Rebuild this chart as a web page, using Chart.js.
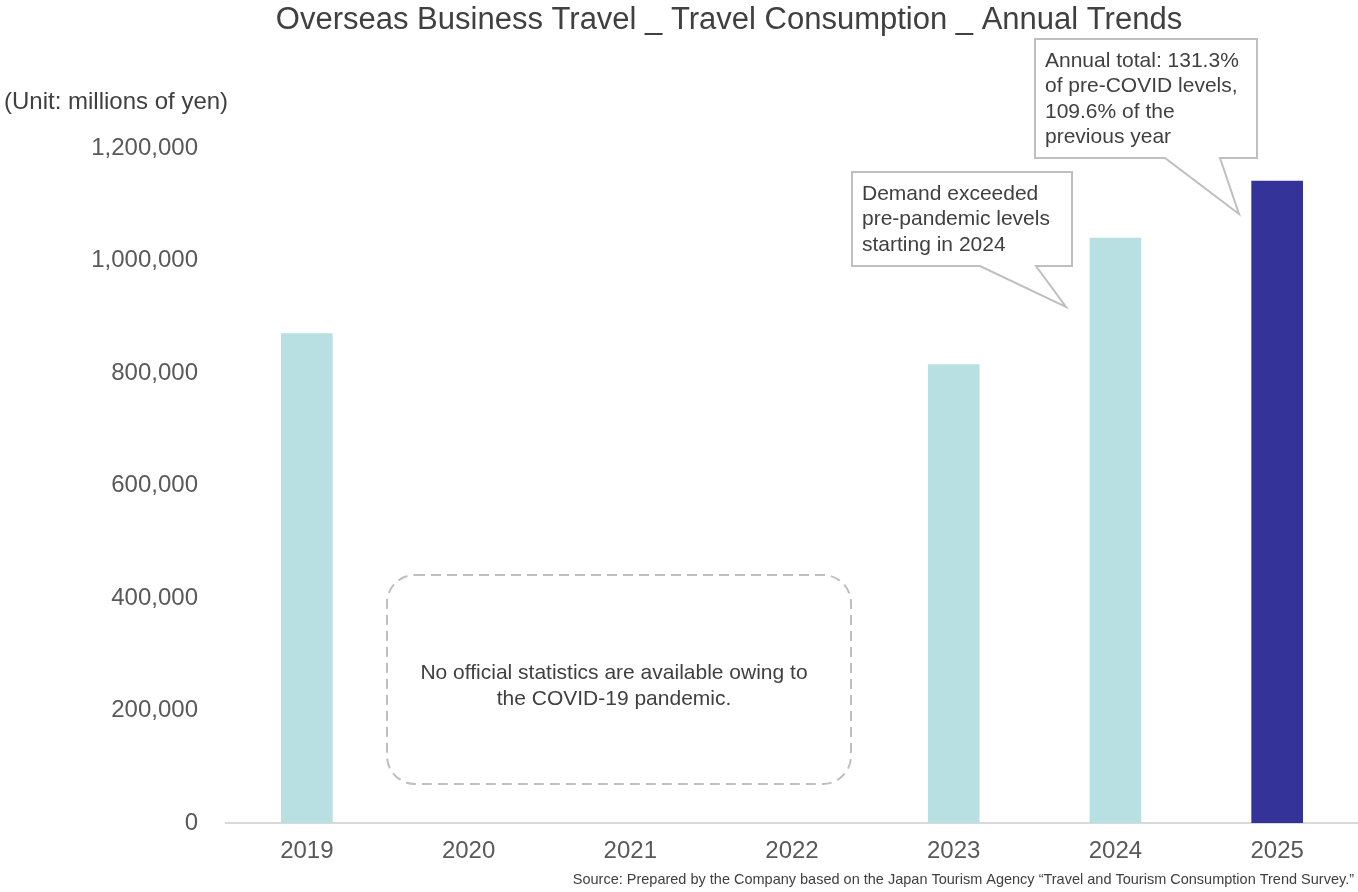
<!DOCTYPE html>
<html>
<head>
<meta charset="utf-8">
<script src="https://cdn.jsdelivr.net/npm/chart.js@4"></script>
<style>
  html, body { margin: 0; padding: 0; background: #fff; }
  #wrap { width: 1358px; height: 892px; position: relative; }
</style>
</head>
<body>
<div id="wrap"><canvas id="chart" width="1358" height="892"></canvas></div>
<script>
// data
const years = ['2019', '2020', '2021', '2022', '2023', '2024', '2025'];
const consumption = [870000, null, null, null, 815000, 1040000, 1141000];
const barColors = ['#b8e0e3', '#b8e0e3', '#b8e0e3', '#b8e0e3', '#b8e0e3', '#b8e0e3', '#333399'];
const yTicks = [0, 200000, 400000, 600000, 800000, 1000000, 1200000];

const FONT = '"Liberation Sans", Arial, sans-serif';
const TEXT = '#404040';

function roundRect(ctx, x, y, w, h, r) {
    ctx.beginPath();
    ctx.moveTo(x + r, y);
    ctx.lineTo(x + w - r, y);
    ctx.arcTo(x + w, y, x + w, y + r, r);
    ctx.lineTo(x + w, y + h - r);
    ctx.arcTo(x + w, y + h, x + w - r, y + h, r);
    ctx.lineTo(x + r, y + h);
    ctx.arcTo(x, y + h, x, y + h - r, r);
    ctx.lineTo(x, y + r);
    ctx.arcTo(x, y, x + r, y, r);
    ctx.closePath();
}

// callout: rectangle box with a pointer tail
function callout(ctx, box, tail, lines) {
    ctx.save();
    ctx.beginPath();
    ctx.moveTo(box.x, box.y);
    ctx.lineTo(box.x + box.w, box.y);
    ctx.lineTo(box.x + box.w, box.y + box.h);
    ctx.lineTo(tail.b2, box.y + box.h);
    ctx.lineTo(tail.tx, tail.ty);
    ctx.lineTo(tail.b1, box.y + box.h);
    ctx.lineTo(box.x, box.y + box.h);
    ctx.closePath();
    ctx.fillStyle = '#ffffff';
    ctx.fill();
    ctx.strokeStyle = '#bfbfbf';
    ctx.lineWidth = 2;
    ctx.stroke();
    ctx.fillStyle = TEXT;
    ctx.font = '21px ' + FONT;
    ctx.textAlign = 'left';
    ctx.textBaseline = 'middle';
    lines.forEach((l, i) => ctx.fillText(l, box.x + 10, box.y + 22 + i * 25.5));
    ctx.restore();
}

const decorPlugin = {
    id: 'decor',
    afterDraw(chart) {
        const ctx = chart.ctx;
        ctx.save();
        // title
        ctx.fillStyle = TEXT;
        ctx.font = '31px ' + FONT;
        ctx.textAlign = 'center';
        ctx.textBaseline = 'middle';
        ctx.fillText('Overseas Business Travel _ Travel Consumption _ Annual Trends', 729, 20);
        // unit
        ctx.font = '24px ' + FONT;
        ctx.textAlign = 'left';
        ctx.fillText('(Unit: millions of yen)', 4, 102);
        // source
        ctx.font = '14.5px ' + FONT;
        ctx.textAlign = 'right';
        ctx.fillText('Source: Prepared by the Company based on the Japan Tourism Agency \u201CTravel and Tourism Consumption Trend Survey.\u201D', 1354, 880);

        // dashed no-data box
        ctx.setLineDash([10, 6]);
        ctx.strokeStyle = '#bfbfbf';
        ctx.lineWidth = 2;
        roundRect(ctx, 387, 575, 464, 209, 28);
        ctx.stroke();
        ctx.setLineDash([]);
        ctx.fillStyle = TEXT;
        ctx.font = '21px ' + FONT;
        ctx.textAlign = 'center';
        ctx.fillText('No official statistics are available owing to', 614, 673);
        ctx.fillText('the COVID-19 pandemic.', 614, 699);
        ctx.restore();

        callout(ctx, { x: 852, y: 172, w: 220, h: 94 }, { b1: 980, b2: 1036, tx: 1066, ty: 307 },
            ['Demand exceeded', 'pre-pandemic levels', 'starting in 2024']);
        callout(ctx, { x: 1035, y: 39, w: 222, h: 119 }, { b1: 1165, b2: 1220, tx: 1239, ty: 214 },
            ['Annual total: 131.3%', 'of pre-COVID levels,', '109.6% of the', 'previous year']);
    }
};

new Chart(document.getElementById('chart'), {
    type: 'bar',
    data: {
        labels: years,
        datasets: [{
            data: consumption,
            backgroundColor: barColors,
            borderWidth: 0,
            barThickness: 51
        }]
    },
    options: {
        responsive: false,
        animation: false,
        devicePixelRatio: 1,
        layout: { padding: { top: 148, right: 0, left: 0, bottom: 0 } },
        plugins: { legend: { display: false }, tooltip: { enabled: false }, title: { display: false } },
        scales: {
            x: {
                grid: { display: false, drawTicks: false },
                border: { color: '#d9d9d9', width: 2 },
                ticks: { color: '#595959', font: { family: FONT, size: 24 }, padding: 14 },
                afterFit(scale) { scale.height = 69; }
            },
            y: {
                min: 0,
                max: 1200000,
                grid: { display: false, drawTicks: false },
                border: { display: false },
                afterBuildTicks(scale) { scale.ticks = yTicks.map(v => ({ value: v })); },
                ticks: {
                    color: '#595959',
                    font: { family: FONT, size: 24 },
                    padding: 28,
                    callback: v => v.toLocaleString('en-US')
                },
                afterFit(scale) { scale.width = 226; }
            }
        }
    },
    plugins: [decorPlugin]
});
</script>
</body>
</html>
